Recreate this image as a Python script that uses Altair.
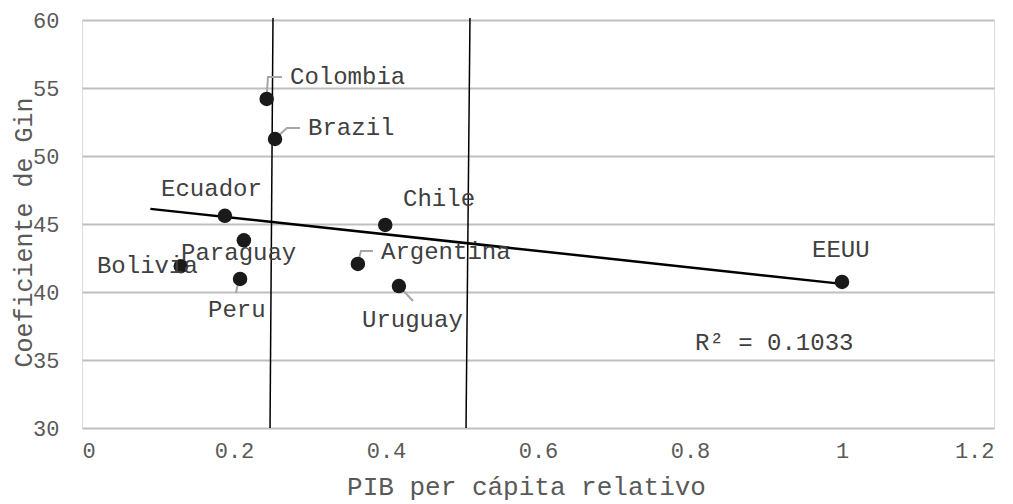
import altair as alt
import pandas as pd

# ---- data ----
countries = ["Colombia", "Brazil", "Ecuador", "Paraguay", "Bolivia", "Peru",
             "Chile", "Argentina", "Uruguay", "EEUU"]
pib_rel = [0.243, 0.254, 0.188, 0.213, 0.130, 0.208, 0.399, 0.363, 0.417, 1.0]
gini = [54.2, 51.25, 45.6, 43.8, 41.9, 40.96, 44.93, 42.06, 40.44, 40.74]

# label anchor positions (data units, left edge / vertical middle)
label_x = [0.2737, 0.2974, 0.1040, 0.1303, 0.0197, 0.1658, 0.4224, 0.3934, 0.3684, 0.9605]
label_y = [55.81, 52.06, 47.57, 42.87, 41.91, 38.68, 46.84, 42.94, 37.94, 43.09]

# leader lines (data units)
leader_id = ["Colombia", "Colombia", "Colombia", "Brazil", "Brazil", "Brazil",
             "Argentina", "Argentina", "Argentina", "Uruguay", "Uruguay", "Peru", "Peru"]
leader_order = [0, 1, 2, 0, 1, 2, 0, 1, 2, 0, 1, 0, 1]
leader_x = [0.2434, 0.2447, 0.2632, 0.2566, 0.2697, 0.2868,
            0.3632, 0.3671, 0.3829, 0.4184, 0.4355, 0.2053, 0.2026]
leader_y = [54.71, 55.81, 55.81, 51.40, 52.06, 52.06,
            42.21, 43.01, 43.01, 40.37, 39.34, 40.66, 39.93]

# vertical reference lines
vline_x_top = [0.2513, 0.5105]
vline_x_bot = [0.2474, 0.5053]
vline_y_top = [60.15, 60.15]
vline_y_bot = [30.0, 30.0]

trend_extent = [0.09, 1.0]
r2_text = ["R² = 0.1033"]
r2_x = [0.8066]
r2_y = [36.25]

FONT = "Liberation Mono"
TXT = "#404040"

pts = pd.DataFrame({"pais": countries, "x": pib_rel, "y": gini})
labs = pd.DataFrame({"pais": countries, "lx": label_x, "ly": label_y})
leaders = pd.DataFrame({"id": leader_id, "o": leader_order, "x": leader_x, "y": leader_y})
vlines = pd.DataFrame({"xt": vline_x_top, "xb": vline_x_bot, "yt": vline_y_top, "yb": vline_y_bot})
r2 = pd.DataFrame({"t": r2_text, "x": r2_x, "y": r2_y})

xscale = alt.Scale(domain=[0, 1.2], nice=False, zero=False)
yscale = alt.Scale(domain=[30, 60], nice=False, zero=False)

xaxis = alt.Axis(values=[0, 0.2, 0.4, 0.6, 0.8, 1.0, 1.2], format="~g", grid=False,
                 domain=False, ticks=False, labelPadding=12, labelFontSize=22,
                 labelColor="#595959", labelFont=FONT,
                 title="PIB per cápita relativo", titleFont=FONT, titleFontSize=26,
                 titleFontWeight="normal", titleColor="#595959",
                 titleX=444, titleY=66, titleBaseline="alphabetic", titleAlign="center")
yaxis = alt.Axis(values=[30, 35, 40, 45, 50, 55, 60], grid=True, gridColor="#bfbfbf",
                 gridWidth=2, domain=False, ticks=False, labelPadding=23,
                 labelFontSize=22, labelColor="#595959", labelFont=FONT,
                 labelBaseline="middle",
                 title="Coeficiente de Gin", titleFont=FONT, titleFontSize=25,
                 titleFontWeight="normal", titleColor="#595959", titleAngle=-90,
                 titleX=-51, titleY=212, titleBaseline="alphabetic", titleAlign="center")

base_pts = alt.Chart(pts)

grid = base_pts.mark_point(opacity=0).encode(
    x=alt.X("x:Q", scale=xscale, axis=xaxis),
    y=alt.Y("y:Q", scale=yscale, axis=yaxis),
)

vl = alt.Chart(vlines).mark_rule(color="black", strokeWidth=1.5).encode(
    x=alt.X("xt:Q", scale=xscale), x2="xb:Q",
    y=alt.Y("yt:Q", scale=yscale), y2="yb:Q",
)

trend = base_pts.transform_regression("x", "y", extent=trend_extent).mark_line(
    color="black", strokeWidth=2.5
).encode(x=alt.X("x:Q", scale=xscale), y=alt.Y("y:Q", scale=yscale))

lead = alt.Chart(leaders).mark_line(color="#a6a6a6", strokeWidth=2).encode(
    x=alt.X("x:Q", scale=xscale), y=alt.Y("y:Q", scale=yscale),
    detail="id:N", order="o:Q",
)

dots = base_pts.mark_circle(color="#1a1a1a", opacity=1, size=210).encode(
    x=alt.X("x:Q", scale=xscale), y=alt.Y("y:Q", scale=yscale)
)

texts = alt.Chart(labs).mark_text(font=FONT, fontSize=24, color=TXT, align="left",
                                  baseline="middle").encode(
    x=alt.X("lx:Q", scale=xscale), y=alt.Y("ly:Q", scale=yscale), text="pais:N"
)

r2txt = alt.Chart(r2).mark_text(font=FONT, fontSize=24, color=TXT, align="left",
                                baseline="middle").encode(
    x=alt.X("x:Q", scale=xscale), y=alt.Y("y:Q", scale=yscale), text="t:N"
)

chart = alt.layer(grid, vl, trend, lead, dots, texts, r2txt).properties(
    width=912, height=408,
    autosize=alt.AutoSizeParams(type="none"),
    padding={"left": 74, "top": 12, "right": 10, "bottom": 76},
).configure_view(stroke=None).configure(background="white")

chart.save("out.html", embed_options={"renderer": "svg", "actions": False})
